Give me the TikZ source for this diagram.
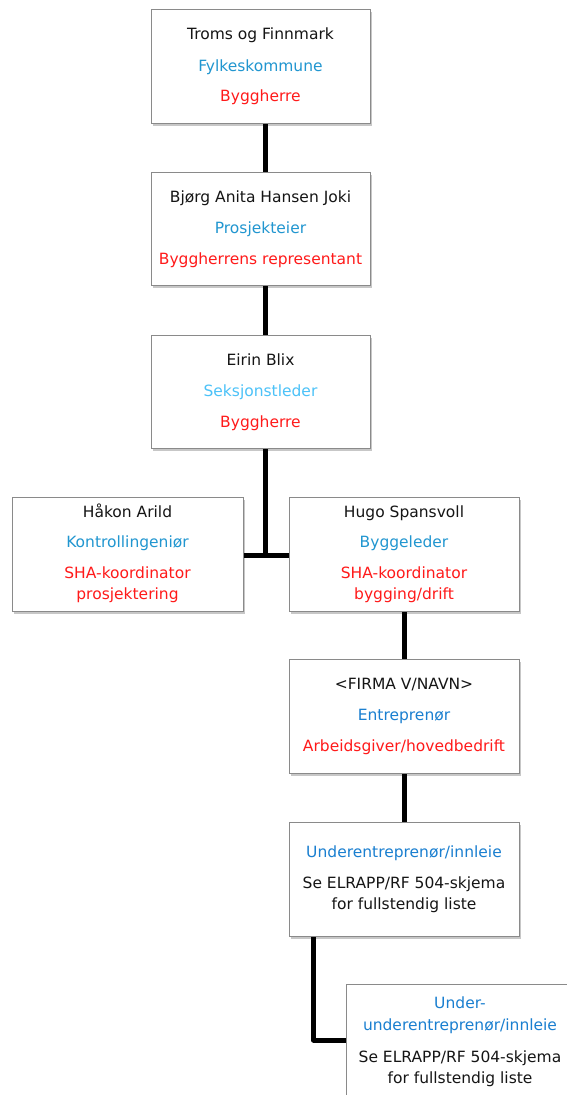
\documentclass[tikz,border=0pt]{standalone}
\usepackage{fontspec}
\setmainfont{DejaVu Sans}
\usetikzlibrary{shadows}
\definecolor{tblack}{HTML}{151515}
\definecolor{tblue}{HTML}{2196D0}
\definecolor{tlight}{HTML}{4CC2F8}
\definecolor{tdeep}{HTML}{1A7FD0}
\definecolor{tred}{HTML}{FF1A1A}
\definecolor{bordergray}{HTML}{8A8A8A}
\begin{document}
\begin{tikzpicture}[x=1pt,y=-1pt,
  box/.style={draw=bordergray, line width=1pt, fill=white, rectangle, anchor=north west, inner sep=0pt,
    drop shadow={shadow xshift=1pt, shadow yshift=-2.5pt, fill=black, opacity=0.22}},
  txt/.style={anchor=base, inner sep=0pt, font=\fontsize{15.5}{18}\selectfont},
  conn/.style={line width=5pt, draw=black}]
\useasboundingbox (0,0) rectangle (567,1095);

% boxes
\node[box, minimum width=219pt, minimum height=114pt] (b1) at (151,9) {};
\node[box, minimum width=219pt, minimum height=113pt] (b2) at (151,172) {};
\node[box, minimum width=219pt, minimum height=113pt] (b3) at (151,335) {};
\node[box, minimum width=231pt, minimum height=114pt] (b4) at (12,497) {};
\node[box, minimum width=230pt, minimum height=114pt] (b5) at (289,497) {};
\node[box, minimum width=230pt, minimum height=114pt] (b6) at (289,659) {};
\node[box, minimum width=230pt, minimum height=114pt] (b7) at (289,822) {};
\node[box, minimum width=228pt, minimum height=114pt] (b8) at (346,984) {};

% connector coordinates
\coordinate (cx1) at (265.5,0);
\coordinate (cx2) at (404,0);
\coordinate (cx3) at (313.5,0);
\coordinate (jn) at (265.5,555);
\coordinate (kn) at (313.5,1040);

\draw[conn] (b1.south -| cx1) -- (b2.north -| cx1);
\draw[conn] (b2.south -| cx1) -- (b3.north -| cx1);
\draw[conn] (b3.south -| cx1) -- (jn);
\draw[conn] (b4.east |- jn) -- (b5.west |- jn);
\draw[conn] (b5.south -| cx2) -- (b6.north -| cx2);
\draw[conn] (b6.south -| cx2) -- (b7.north -| cx2);
\draw[conn, line join=round] (b7.south -| cx3) -- (kn) -- (b8.west |- kn);

% texts box 1
\node[txt, text=tblack] (t1a) at (260.5,39) {Troms og Finnmark};
\node[txt, text=tblue] (t1b) at (260.5,71) {Fylkeskommune};
\node[txt, text=tred] (t1c) at (260.5,101) {Byggherre};
% box 2
\node[txt, text=tblack] (t2a) at (260.5,202) {Bjørg Anita Hansen Joki};
\node[txt, text=tblue] (t2b) at (260.5,233) {Prosjekteier};
\node[txt, text=tred] (t2c) at (260.5,264) {Byggherrens representant};
% box 3
\node[txt, text=tblack] (t3a) at (260.5,365) {Eirin Blix};
\node[txt, text=tlight] (t3b) at (260.5,396) {Seksjonstleder};
\node[txt, text=tred] (t3c) at (260.5,427) {Byggherre};
% box 4
\node[txt, text=tblack] (t4a) at (127.5,517) {Håkon Arild};
\node[txt, text=tblue] (t4b) at (127.5,547) {Kontrollingeniør};
\node[txt, text=tred] (t4c) at (127.5,578) {SHA-koordinator};
\node[txt, text=tred] (t4d) at (127.5,599) {prosjektering};
% box 5
\node[txt, text=tblack] (t5a) at (404,517) {Hugo Spansvoll};
\node[txt, text=tblue] (t5b) at (404,547) {Byggeleder};
\node[txt, text=tred] (t5c) at (404,578) {SHA-koordinator};
\node[txt, text=tred] (t5d) at (404,599) {bygging/drift};
% box 6
\node[txt, text=tblack] (t6a) at (404,689) {<FIRMA V/NAVN>};
\node[txt, text=tdeep] (t6b) at (404,720) {Entreprenør};
\node[txt, text=tred] (t6c) at (404,751) {Arbeidsgiver/hovedbedrift};
% box 7
\node[txt, text=tdeep] (t7a) at (404,857) {Underentreprenør/innleie};
\node[txt, text=tblack] (t7b) at (404,888) {Se ELRAPP/RF 504-skjema};
\node[txt, text=tblack] (t7c) at (404,909) {for fullstendig liste};
% box 8
\node[txt, text=tdeep] (t8a) at (460,1008.5) {Under-};
\node[txt, text=tdeep] (t8b) at (460,1030.5) {underentreprenør/innleie};
\node[txt, text=tblack] (t8c) at (460,1062) {Se ELRAPP/RF 504-skjema};
\node[txt, text=tblack] (t8d) at (460,1083) {for fullstendig liste};
\end{tikzpicture}
\end{document}
